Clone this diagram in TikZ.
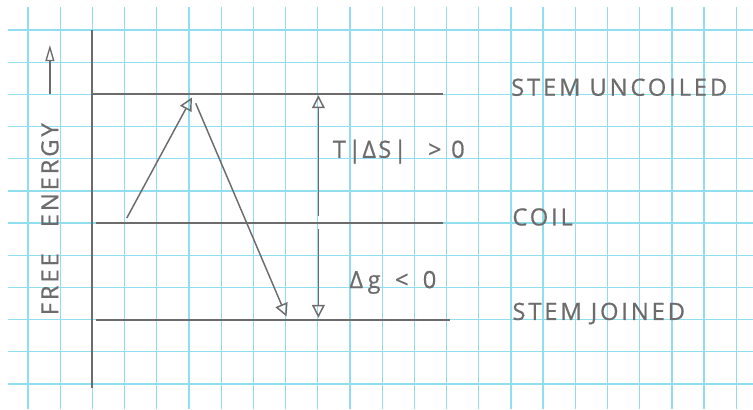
\documentclass[tikz,border=0pt]{standalone}
\usepackage{fontspec}
\usepackage{tikz}
\usetikzlibrary{arrows.meta}
\newfontfamily\handfont[LetterSpace=12,FakeBold=0.6]{Open Sans}
\definecolor{gridblue}{RGB}{145,222,240}
\definecolor{pencil}{RGB}{108,108,108}
\tikzset{
  level/.style={pencil, line width=1.7pt},
  tag/.style={text=pencil, font=\handfont\fontsize{21}{21}\selectfont, inner sep=0pt},
  jump/.style={pencil, line width=1.3pt, -{Triangle[open,length=4mm,width=4mm,line width=1.3pt]}},
}

\begin{document}
\begin{tikzpicture}
  \useasboundingbox (-0.87,-0.78) rectangle (22.52,11.93);
  % squared paper
  \foreach \x in {0,...,22}
    \draw[gridblue,line width=1.1pt] (\x,-0.78) -- (\x,11.71);
  \foreach \y in {0,...,11}
    \draw[gridblue,line width=1.1pt] (-0.62,\y) -- (22.52,\y);
  % axis and levels
  \coordinate (axtop) at (2,11);
  \coordinate (axbot) at (2,-0.12);
  \draw[level] (axtop) -- (axbot);
  \coordinate (u0) at (2,9);
  \coordinate (u1) at (12.9,9);
  \coordinate (c0) at (2.1,5);
  \coordinate (c1) at (12.9,5);
  \coordinate (j0) at (2.1,2);
  \coordinate (j1) at (13.1,2);
  \draw[level] (u0) -- (u1);
  \draw[level] (c0) -- (c1);
  \draw[level] (j0) -- (j1);
  % labels
  \node[tag,anchor=west] (uncoiled) at (15.0,9.22) {STEM UNCOILED};
  \node[tag,anchor=west] (coil) at (15.04,5.19) {COIL};
  \node[tag,anchor=west] (joined) at (15.04,2.19) {STEM JOINED};
  \node[tag,anchor=west] (entropy) at (9.46,7.22) {T\kern2pt|\kern1ptΔ\kern2ptS\kern2pt|\hspace{0.9em}>\hspace{0.4em}0};
  \node[tag,anchor=west] (gibbs) at (9.98,3.16) {Δ\kern4ptg\hspace{0.6em}<\hspace{0.6em}0};
  \node[tag,rotate=90] (energy) at (0.68,5.12) {FREE\hspace{1.1em}ENERGY};
  \coordinate (energytip) at (0.68,10.53);
  \draw[pencil,line width=1.2pt,-{Triangle[open,length=5mm,width=2.8mm,line width=1.2pt]}]
    ([yshift=0.9cm]energy.east) -- (energytip);
  % transitions
  \coordinate (a0) at (3.07,5.16);
  \coordinate (a1) at (5.09,8.9);
  \coordinate (b0) at (5.21,8.72);
  \coordinate (b1) at (8.03,2.1);
  \draw[jump] (a0) -- (a1);
  \draw[jump] (b0) -- (b1);
  \coordinate (s0) at (9.02,5.22);
  \coordinate (s1) at (9.02,8.97);
  \coordinate (g0) at (9.02,4.81);
  \coordinate (g1) at (9.02,2.06);
  \draw[jump] (s0) -- (s1);
  \draw[jump] (g0) -- (g1);
\end{tikzpicture}
\end{document}
